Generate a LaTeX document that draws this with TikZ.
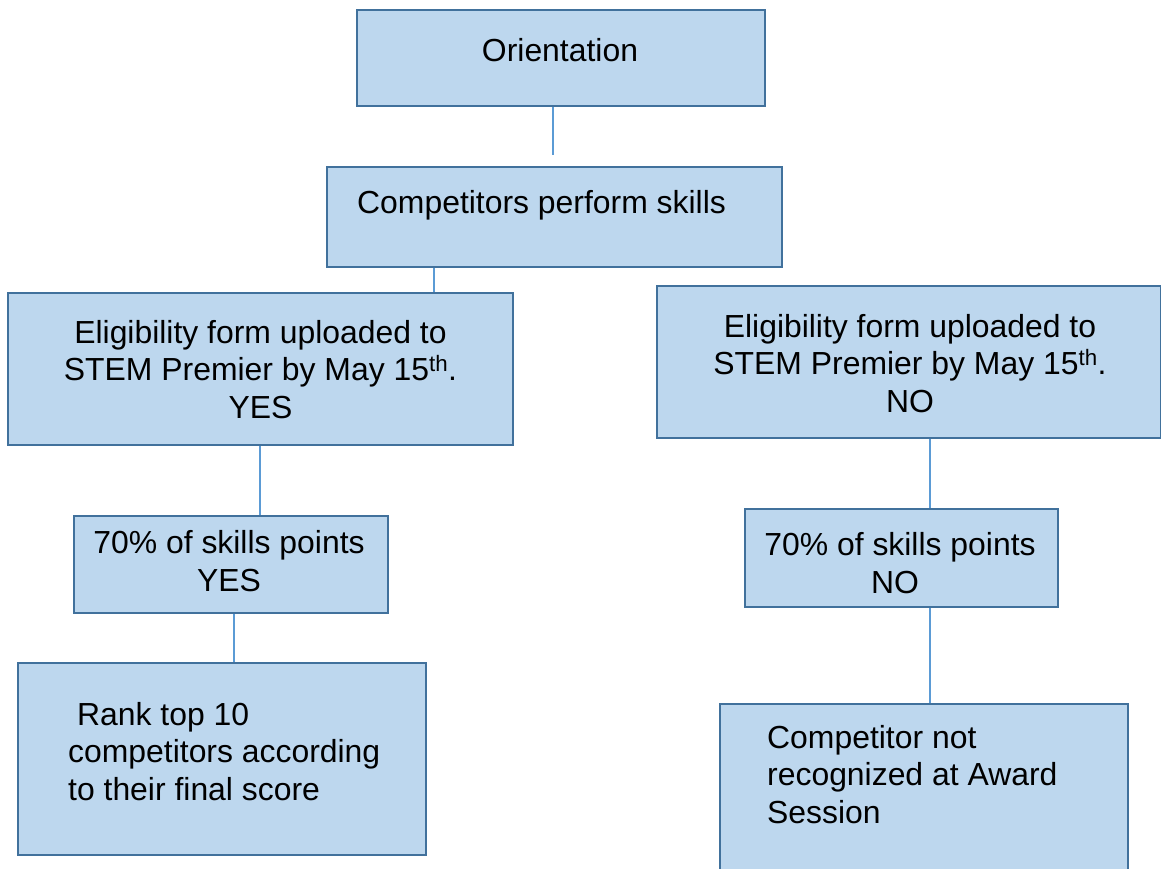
\documentclass[tikz,border=0pt]{standalone}
\usepackage{fontspec}
\setmainfont{Liberation Sans}
\definecolor{boxfill}{HTML}{BDD7EE}
\definecolor{boxline}{HTML}{41719C}
\definecolor{connline}{HTML}{5B9BD5}
\begin{document}
\begin{tikzpicture}[x=1pt,y=-1pt,
  box/.style={draw=boxline, fill=boxfill, line width=2pt, rectangle, inner sep=0pt},
  conn/.style={draw=connline, line width=1.2pt},
  txt/.style={inner sep=0pt, font=\fontsize{31.9}{37.3}\selectfont, text=black}]
\clip (0,0) rectangle (1161,869);
% boxes
\node[box, minimum width=408, minimum height=96] (orient) at (561,58) {};
\node[box, minimum width=455, minimum height=100] (comp) at (554.5,217) {};
\node[box, minimum width=505, minimum height=152] (eyes) at (260.5,369) {};
\node[box, minimum width=504, minimum height=152] (eno) at (909,362) {};
\node[box, minimum width=314, minimum height=97] (syes) at (231,564.5) {};
\node[box, minimum width=313, minimum height=98] (sno) at (901.5,558) {};
\node[box, minimum width=408, minimum height=192] (rank) at (222,759) {};
\node[box, minimum width=408, minimum height=172] (cnot) at (924,790) {};
% texts (base anchor = baseline of last line)
\node[txt, anchor=base] (torient) at (560,62) {Orientation};
\node[txt, anchor=base west] (tcomp) at (357,214) {Competitors perform skills};
\node[txt, anchor=base, align=center] (teyes) at (260.5,418) {Eligibility form uploaded to\\STEM Premier by May 15\textsuperscript{th}.\\YES};
\node[txt, anchor=base, align=center] (teno) at (910,412) {Eligibility form uploaded to\\STEM Premier by May 15\textsuperscript{th}.\\NO};
\node[txt, anchor=base, align=center] (tsyes) at (229,591) {70\% of skills points\\YES};
\node[txt, anchor=base, align=center] (tsno) at (900,593) {70\% of skills points\\NO\hspace*{10pt}};
\node[txt, anchor=base west, align=left] (trank) at (68,800) {\hspace*{9pt}Rank top 10\\competitors according\\to their final score};
\node[txt, anchor=base west, align=left] (tcnot) at (767,823) {Competitor not\\recognized at Award\\Session};
% connector x positions
\coordinate (k1) at (553,155);
\coordinate (k2) at (434,0);
\coordinate (k3) at (260,0);
\coordinate (k4) at (234,0);
\coordinate (k5) at (930,0);
% connectors
\draw[conn] (orient.south -| k1) -- (k1);
\draw[conn] (comp.south -| k2) -- (eyes.north -| k2);
\draw[conn] (eyes.south -| k3) -- (syes.north -| k3);
\draw[conn] (syes.south -| k4) -- (rank.north -| k4);
\draw[conn] (eno.south -| k5) -- (sno.north -| k5);
\draw[conn] (sno.south -| k5) -- (cnot.north -| k5);
\end{tikzpicture}
\end{document}
